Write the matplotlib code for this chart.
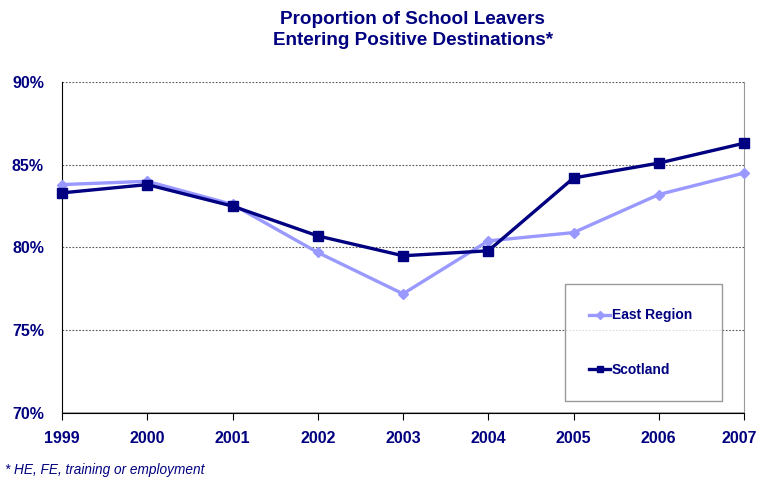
import matplotlib.pyplot as plt
from matplotlib.ticker import FuncFormatter
from matplotlib.transforms import ScaledTranslation

plt.rcParams['font.family'] = ['Liberation Sans', 'DejaVu Sans']

years = [1999, 2000, 2001, 2002, 2003, 2004, 2005, 2006, 2007]
east_region = [83.8, 84.0, 82.6, 79.7, 77.2, 80.4, 80.9, 83.2, 84.5]
scotland = [83.3, 83.8, 82.5, 80.7, 79.5, 79.8, 84.2, 85.1, 86.3]

navy = '#000080'
lilac = '#9999FF'

fig = plt.figure(figsize=(7.57, 4.8), dpi=100)
ax = fig.add_axes([0.0819, 0.1396, 0.901, 0.6896])

ax.plot(years, east_region, color=lilac, lw=2.4, marker='D', ms=5,
        label='East Region', zorder=3, clip_on=False)
ax.plot(years, scotland, color=navy, lw=2.4, marker='s', ms=6.5,
        label='Scotland', zorder=4, clip_on=False)

ax.set_xlim(1999, 2007)
ax.set_ylim(70, 90)
ax.set_xticks(years)
ax.set_yticks([70, 75, 80, 85, 90])
ax.yaxis.set_major_formatter(FuncFormatter(lambda v, p: f'{v:.0f}%'))

# dotted gridlines, solid grey floor line
for v in [75, 80, 85, 90]:
    ax.axhline(v, color='#555555', lw=0.8, ls=(0, (1.5, 1.5)), zorder=1)
ax.axhline(70, color='#999999', lw=1.2, zorder=1)

ax.spines['top'].set_visible(False)
ax.spines['right'].set_color('#999999')
ax.spines['left'].set_color('black')
ax.spines['bottom'].set_color('black')
ax.tick_params(axis='x', direction='out', length=5, color='black',
               labelsize=11.5, labelcolor=navy, pad=8)
ax.tick_params(axis='y', length=0, labelsize=11.5, labelcolor=navy, pad=13)
for lab in ax.get_xticklabels() + ax.get_yticklabels():
    lab.set_fontweight('bold')
# nudge the last year label so it stays inside the figure
last = ax.get_xticklabels()[-1]
last.set_transform(last.get_transform() + ScaledTranslation(-0.05, 0, fig.dpi_scale_trans))

leg = ax.legend(loc='lower left', bbox_to_anchor=(0.7375, 0.036, 0.230, 0.353),
                mode='expand', frameon=True, fancybox=False, handlelength=1.5,
                handletextpad=0.1, labelspacing=2.9, borderpad=1.75,
                borderaxespad=0, prop={'weight': 'bold', 'size': 10})
leg.get_frame().set_edgecolor('#808080')
leg.get_frame().set_linewidth(1.0)
for t in leg.get_texts():
    t.set_color(navy)
for h in leg.legend_handles:
    h.set_markersize(4.5)

fig.text(0.545, 0.978, 'Proportion of School Leavers\nEntering Positive Destinations*',
         ha='center', va='top', fontsize=13.6, fontweight='bold', color=navy,
         linespacing=1.35)
fig.text(0.006, 0.021, '* HE, FE, training or employment', fontsize=9.8,
         style='italic', color=navy, ha='left', va='center')

fig.savefig('out.png', dpi=100)
